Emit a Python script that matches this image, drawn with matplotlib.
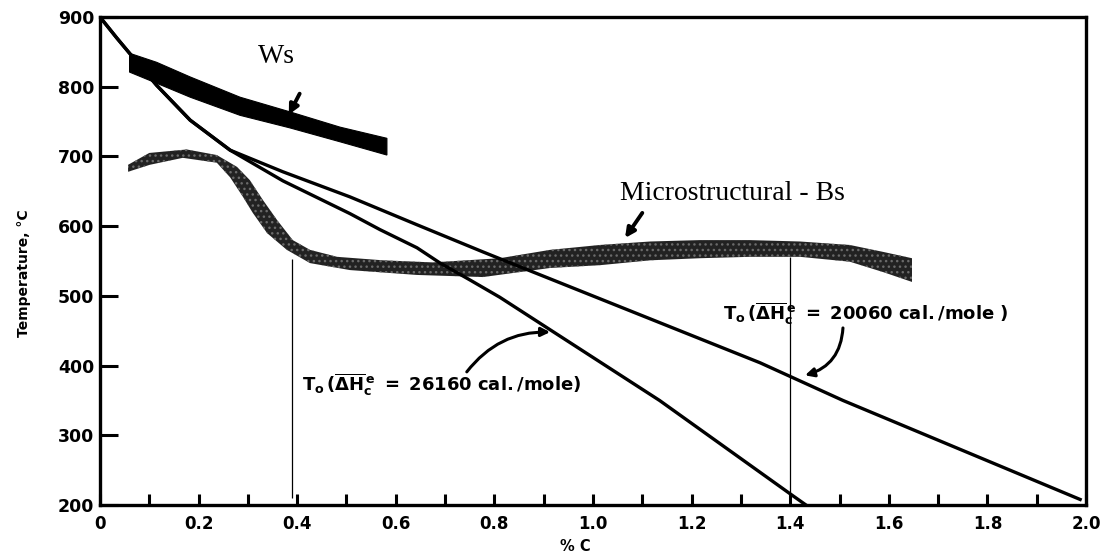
import numpy as np
import matplotlib.pyplot as plt
from matplotlib.ticker import MultipleLocator

# Ws band (upper / lower edge), % C vs deg C
ws_x = [0.06, 0.115, 0.183, 0.284, 0.385, 0.487, 0.582]
ws_top = [848, 835, 814, 785, 764, 742, 726]
ws_bot = [821, 805, 785, 759, 741, 721, 702]

# microstructural Bs band, upper and lower edge
bs_top_x = [0.057, 0.10, 0.176, 0.237, 0.278, 0.304, 0.331, 0.359, 0.391, 0.426,
            0.481, 0.574, 0.675, 0.811, 0.913, 1.014, 1.116, 1.217, 1.318, 1.42,
            1.521, 1.589, 1.647]
bs_top = [688, 705, 710, 702, 685, 666, 637, 609, 580, 566,
          556, 551, 548, 554, 566, 573, 578, 580, 580, 578,
          573, 563, 554]
bs_bot_x = [0.057, 0.101, 0.168, 0.237, 0.264, 0.29, 0.31, 0.339, 0.379, 0.426,
            0.507, 0.643, 0.777, 0.913, 1.014, 1.116, 1.217, 1.318, 1.42, 1.521,
            1.589, 1.647]
bs_bot = [678, 688, 698, 691, 670, 642, 619, 590, 566, 547,
          537, 530, 527, 540, 544, 551, 554, 556, 556, 549,
          534, 520]

# T0 curves: common start, then the two branches
t0_x = [0.0, 0.034, 0.06, 0.115, 0.183, 0.264]
t0_t = [900, 870, 848, 802, 752, 709]
ta_x = [0.371, 0.507, 0.568, 0.643, 0.69, 0.75, 0.811, 1.135, 1.40, 1.432]
ta_t = [665, 618, 595, 569, 547, 523, 498, 350, 216, 200]
tb_x = [0.371, 0.507, 0.643, 0.777, 0.858, 1.339, 1.507, 1.988]
tb_t = [678, 642, 602, 563, 540, 404, 350, 208]

# thin verticals
vl_x = [0.39, 1.40]
vl_top = [553, 556]
vl_bot = [210, 215]

xticks = [0, 0.2, 0.4, 0.6, 0.8, 1.0, 1.2, 1.4, 1.6, 1.8, 2.0]
xlabels = ['0', '0.2', '0.4', '0.6', '0.8', '1.0', '1.2', '1.4', '1.6', '1.8', '2.0']
yticks = [200, 300, 400, 500, 600, 700, 800, 900]

plt.rcParams['hatch.linewidth'] = 1.0

fig = plt.figure(figsize=(11.01, 5.52), dpi=100)
ax = fig.add_axes([0.0908, 0.0851, 0.8956, 0.8841])

# bands
ax.fill(ws_x + ws_x[::-1], ws_top + ws_bot[::-1], color='black', lw=0.8, zorder=3)
ax.fill(bs_top_x + bs_bot_x[::-1], bs_top + bs_bot[::-1], facecolor='#222222',
        edgecolor='#6a6a6a', hatch='...', lw=0, zorder=3)

# T0 lines
ax.plot(t0_x + ta_x, t0_t + ta_t, color='black', lw=2.4, solid_joinstyle='round', zorder=4)
ax.plot(t0_x + tb_x, t0_t + tb_t, color='black', lw=2.4, solid_joinstyle='round', zorder=4)
ax.vlines(vl_x, vl_bot, vl_top, color='black', lw=0.9, zorder=2)

# labels
ax.text(0.359, 834, 'Ws', family='Liberation Serif', fontsize=20, ha='center', va='baseline')
ax.text(1.055, 637, 'Microstructural - Bs', family='Liberation Serif', fontsize=20,
        ha='left', va='baseline')

arw = dict(arrowstyle='-|>', color='black', lw=2.8, mutation_scale=14, shrinkA=0, shrinkB=0)
ax.annotate('', xy=(0.383, 760), xytext=(0.405, 790), arrowprops=arw)
ax.annotate('', xy=(1.065, 583), xytext=(1.10, 619), arrowprops=arw)

cur = dict(arrowstyle='-|>', color='black', lw=2.2, mutation_scale=13, shrinkA=0, shrinkB=0)
ax.annotate('', xy=(0.913, 448), xytext=(0.744, 391),
            arrowprops=dict(cur, connectionstyle='arc3,rad=-0.25'))
ax.annotate('', xy=(1.43, 386), xytext=(1.507, 454),
            arrowprops=dict(cur, connectionstyle='arc3,rad=-0.35'))

ax.text(0.41, 372, r'$\mathbf{T_o\,(\overline{\Delta H}_c^{\,e}\ =\ 26160\ cal./mole)}$',
        fontsize=13, ha='left', va='center')
ax.text(1.264, 475, r'$\mathbf{T_o\,(\overline{\Delta H}_c^{\,e}\ =\ 20060\ cal./mole\ )}$',
        fontsize=13, ha='left', va='center')

# axes
ax.set_xlim(0, 2.0)
ax.set_ylim(200, 900)
ax.set_xticks(xticks)
ax.set_xticklabels(xlabels)
ax.xaxis.set_minor_locator(MultipleLocator(0.1))
ax.set_yticks(yticks)
ax.tick_params(axis='x', which='both', direction='in', length=8, width=2.2, pad=7,
               labelsize=12)
ax.tick_params(axis='y', direction='in', length=13, width=2.2, pad=4, labelsize=12.5)
for lab in ax.get_xticklabels() + ax.get_yticklabels():
    lab.set_fontweight('bold')
for s in ax.spines.values():
    s.set_linewidth(2.4)

ax.set_xlabel('% C', fontsize=10.5, fontweight='bold')
ax.xaxis.set_label_coords(0.482, -0.07)
ax.set_ylabel('Temperature, °C', fontsize=10, fontweight='bold')
ax.yaxis.set_label_coords(-0.07, 0.475)

fig.savefig('out.png', dpi=100)
